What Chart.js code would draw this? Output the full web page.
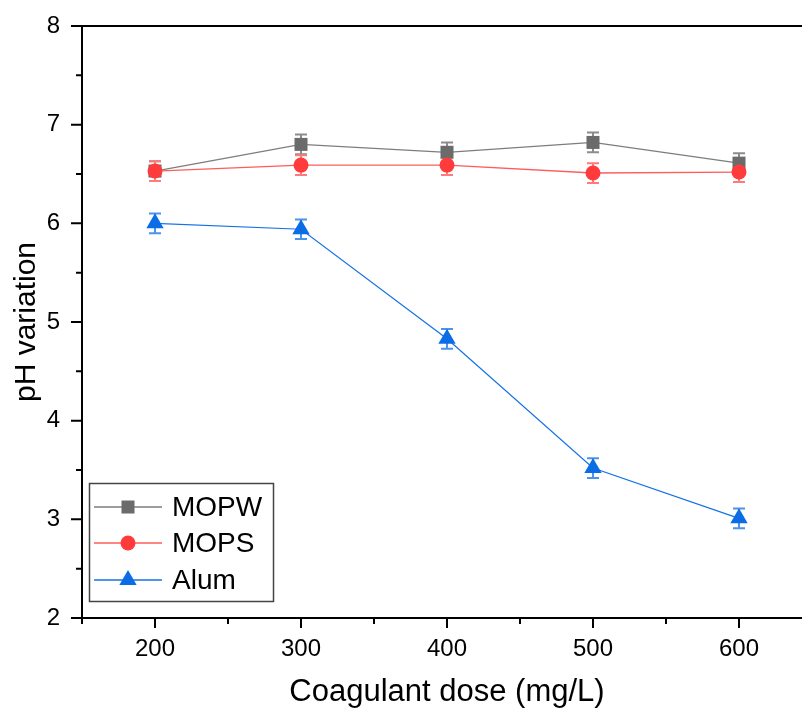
<!DOCTYPE html>
<html>
<head>
<meta charset="utf-8">
<script src="https://cdn.jsdelivr.net/npm/chart.js@4/dist/chart.umd.min.js"></script>
<style>
  html, body { margin: 0; padding: 0; background: #fff; overflow: hidden; }
</style>
</head>
<body>
<!-- plot frame runs a little past the right edge of the window, as in the figure -->
<canvas id="phChart" width="812" height="708"></canvas>
<script>
// values
const doses = [200, 300, 400, 500, 600];
const mopw = [6.53, 6.80, 6.72, 6.82, 6.61];
const mops = [6.53, 6.59, 6.59, 6.51, 6.52];
const alum = [6.00, 5.94, 4.83, 3.52, 3.01];
const mopwErr = [0.1, 0.1, 0.1, 0.1, 0.1];
const mopsErr = [0.1, 0.1, 0.1, 0.1, 0.1];
const alumErr = [0.1, 0.1, 0.1, 0.1, 0.1];
const seriesNames = ['MOPW', 'MOPS', 'Alum'];

const FONT = '"Liberation Sans", Arial, sans-serif';

const pts = (vals) => vals.map((v, i) => ({ x: doses[i], y: v }));

// error bars, drawn under the markers
const errBars = {
  id: 'errBars',
  beforeDatasetsDraw(chart) {
    const { ctx, scales: { x, y } } = chart;
    chart.data.datasets.forEach((ds) => {
      ctx.save();
      ctx.strokeStyle = ds.errColor;
      ctx.lineWidth = 2;
      ds.data.forEach((p, j) => {
        const px = x.getPixelForValue(p.x);
        const top = y.getPixelForValue(p.y + ds.err[j]);
        const bot = y.getPixelForValue(p.y - ds.err[j]);
        ctx.beginPath();
        ctx.moveTo(px, top); ctx.lineTo(px, bot);
        ctx.moveTo(px - 6, top); ctx.lineTo(px + 6, top);
        ctx.moveTo(px - 6, bot); ctx.lineTo(px + 6, bot);
        ctx.stroke();
      });
      ctx.restore();
    });
  }
};

// axis lines + outward major/minor ticks, origin style
const frame = {
  id: 'frame',
  afterDraw(chart) {
    const { ctx, chartArea: a, scales: { x, y } } = chart;
    ctx.save();
    ctx.strokeStyle = '#000';
    ctx.lineWidth = 2;
    ctx.beginPath();
    ctx.moveTo(a.left, a.top); ctx.lineTo(a.left, a.bottom + 1);
    ctx.moveTo(a.right, a.top); ctx.lineTo(a.right, a.bottom);
    ctx.moveTo(a.left - 1, a.bottom); ctx.lineTo(a.right, a.bottom);
    ctx.moveTo(a.left - 1, a.top); ctx.lineTo(a.right, a.top);
    y.ticks.forEach((t) => {
      const py = y.getPixelForValue(t.value);
      const len = Number.isInteger(t.value) ? 11 : 6;
      ctx.moveTo(a.left - len, py); ctx.lineTo(a.left, py);
    });
    x.ticks.forEach((t) => {
      if (t.value % 50 !== 0) return;
      const px = x.getPixelForValue(t.value);
      const len = t.value % 100 === 0 ? 10 : 6;
      ctx.moveTo(px, a.bottom); ctx.lineTo(px, a.bottom + len);
    });
    ctx.stroke();
    ctx.restore();
  }
};

// legend box in the lower left corner
const boxLegend = {
  id: 'boxLegend',
  afterDraw(chart) {
    const { ctx } = chart;
    ctx.save();
    ctx.fillStyle = '#fff';
    ctx.fillRect(89.5, 483.5, 184, 118);
    ctx.strokeStyle = '#444';
    ctx.lineWidth = 1.5;
    ctx.strokeRect(89.5, 483.5, 184, 118);
    const rows = [507, 543, 580];
    chart.data.datasets.forEach((ds, i) => {
      const ry = rows[i];
      ctx.strokeStyle = ds.borderColor;
      ctx.lineWidth = 1.3;
      ctx.beginPath();
      ctx.moveTo(94, ry); ctx.lineTo(162, ry);
      ctx.stroke();
      ctx.fillStyle = ds.pointBackgroundColor;
      Chart.helpers.drawPoint(ctx, {
        pointStyle: ds.pointStyle, radius: ds.pointRadius, rotation: 0, borderWidth: 0
      }, 128, ry);
      ctx.fillStyle = '#000';
      ctx.font = '28px ' + FONT;
      ctx.textBaseline = 'middle';
      ctx.fillText(ds.label, 172, ry + 1);
    });
    ctx.restore();
  }
};

new Chart(document.getElementById('phChart'), {
  type: 'line',
  data: {
    datasets: [
      {
        label: seriesNames[0], data: pts(mopw), err: mopwErr, errColor: '#8c8c8c',
        borderColor: '#7d7d7d', borderWidth: 1.3, pointStyle: 'rect', pointRadius: 9.2,
        pointBackgroundColor: '#6b6b6b', pointBorderWidth: 0, order: 1
      },
      {
        label: seriesNames[1], data: pts(mops), err: mopsErr, errColor: '#ff7a7a',
        borderColor: '#ff5c5c', borderWidth: 1.3, pointStyle: 'circle', pointRadius: 7.5,
        pointBackgroundColor: '#ff3b3b', pointBorderWidth: 0, order: 0
      },
      {
        label: seriesNames[2], data: pts(alum), err: alumErr, errColor: '#4a94ee',
        borderColor: '#1472e6', borderWidth: 1.2, pointStyle: 'triangle', pointRadius: 10,
        pointBackgroundColor: '#0a6de6', pointBorderWidth: 0, order: 2
      }
    ]
  },
  options: {
    responsive: false,
    animation: false,
    layout: { autoPadding: false, padding: { top: 26, right: 0, left: 0, bottom: 0 } },
    plugins: { legend: { display: false }, tooltip: { enabled: false } },
    scales: {
      x: {
        type: 'linear', min: 150, max: 650,
        // tick marks are drawn by the frame plugin; tickLength only spaces the labels
        grid: { display: false, drawTicks: true, tickLength: 17 },
        border: { display: false },
        ticks: {
          stepSize: 50, autoSkip: false, maxRotation: 0, padding: 0, includeBounds: false,
          color: '#000', font: { family: FONT, size: 24 },
          callback: (v) => (v % 100 === 0 && v >= 200 && v <= 600) ? String(v) : ''
        },
        title: {
          display: true, text: 'Coagulant dose (mg/L)', color: '#000',
          font: { family: FONT, size: 31, lineHeight: 1 }, padding: { top: 0, bottom: 0 }
        },
        afterFit: (s) => { s.height = 90; }
      },
      y: {
        min: 2, max: 8,
        grid: { display: false, drawTicks: true, tickLength: 22 },
        border: { display: false },
        ticks: {
          stepSize: 0.5, autoSkip: false, padding: 0,
          color: '#000', font: { family: FONT, size: 24 },
          callback: (v) => Number.isInteger(v) ? String(v) : ''
        },
        title: {
          display: true, text: 'pH variation', color: '#000',
          font: { family: FONT, size: 30, lineHeight: 1 }, padding: { top: 12, bottom: 0 }
        },
        afterFit: (s) => { s.width = 82; }
      }
    }
  },
  plugins: [errBars, frame, boxLegend]
});
</script>
</body>
</html>
